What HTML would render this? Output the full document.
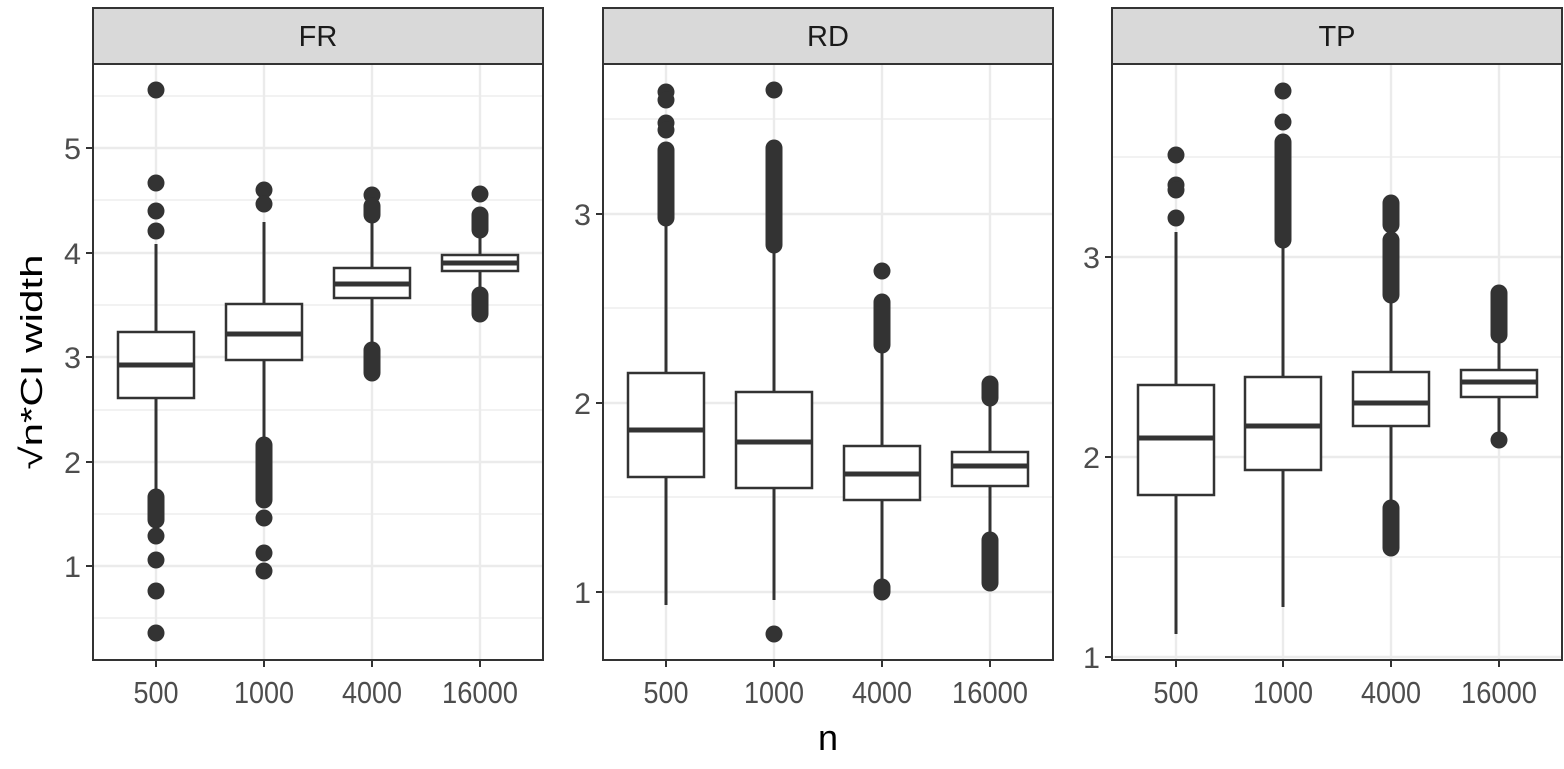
<!DOCTYPE html>
<html><head><meta charset="utf-8"><style>
body{margin:0;background:#fff;width:1564px;height:764px;overflow:hidden}
text{font-family:"Liberation Sans",sans-serif}
</style></head><body>
<svg id="s" width="1564" height="764" xmlns="http://www.w3.org/2000/svg"></svg>
<script>
const s=document.getElementById('s');let h='';
const panels=[
 {x0:93,x1:543,lab:'FR',cats:[156,264,372,480],
  maj:[[148,'5'],[253,'4'],[357,'3'],[462,'2'],[566,'1']],min:[96,200,305,410,514,618],
  b:[
   {q1:332,q3:398,m:365,wt:244,wb:492,o:[90,183,211,231],c:[[497,520],[536,536]],o2:[560,591,633]},
   {q1:304,q3:360,m:334,wt:222,wb:440,o:[190,204],c:[[445,500]],o2:[518,553,571]},
   {q1:268,q3:298,m:284,wt:215,wb:345,o:[195],c:[[206,215],[350,373]],o2:[]},
   {q1:255,q3:271,m:263,wt:233,wb:290,o:[194],c:[[215,230],[295,314]],o2:[]}]},
 {x0:603,x1:1053,lab:'RD',cats:[666,774,882,990],
  maj:[[214,'3'],[403,'2'],[592,'1']],min:[119,308,497],
  b:[
   {q1:373,q3:477,m:430,wt:218,wb:605,o:[92,100,123,130],c:[[150,218]],o2:[]},
   {q1:392,q3:488,m:442,wt:250,wb:600,o:[90],c:[[148,245]],o2:[634]},
   {q1:446,q3:500,m:474,wt:350,wb:585,o:[271],c:[[302,345],[587,592]],o2:[]},
   {q1:452,q3:486,m:466,wt:405,wb:535,o:[],c:[[384,398],[540,583]],o2:[]}]},
 {x0:1112,x1:1562,lab:'TP',cats:[1176,1283,1391,1499],
  maj:[[257,'3'],[457,'2'],[657,'1']],min:[157,357,557],
  b:[
   {q1:385,q3:495,m:438,wt:232,wb:634,o:[155,185,190,218],c:[],o2:[]},
   {q1:377,q3:470,m:426,wt:240,wb:607,o:[91,122],c:[[142,240]],o2:[]},
   {q1:372,q3:426,m:403,wt:297,wb:505,o:[],c:[[203,225],[240,295],[508,548]],o2:[]},
   {q1:370,q3:397,m:382,wt:335,wb:436,o:[],c:[[293,335]],o2:[440]}]}
];
const Y0=64,Y1=660,col='#333';
for(const p of panels){
 h+=`<rect x="${p.x0}" y="8" width="${p.x1-p.x0}" height="${Y0-8}" fill="#d9d9d9" stroke="#333" stroke-width="2"/>`;
 h+=`<text x="${(p.x0+p.x1)/2}" y="46" font-size="29" text-anchor="middle" fill="#1a1a1a">${p.lab}</text>`;
 for(const y of p.min)h+=`<line x1="${p.x0}" x2="${p.x1}" y1="${y}" y2="${y}" stroke="#ebebeb" stroke-width="1.2"/>`;
 for(const [y,t] of p.maj){h+=`<line x1="${p.x0}" x2="${p.x1}" y1="${y}" y2="${y}" stroke="#ebebeb" stroke-width="2.4"/>`;
  h+=`<line x1="${p.x0-7}" x2="${p.x0}" y1="${y}" y2="${y}" stroke="#333" stroke-width="2"/>`;
  h+=`<text x="${p.x0-12}" y="${y+11}" font-size="30" text-anchor="end" fill="#4d4d4d" textLength="17" lengthAdjust="spacingAndGlyphs">${t}</text>`;}
 const names=['500','1000','4000','16000'],tl=[45,60,60,76];
 p.cats.forEach((x,i)=>{h+=`<line x1="${x}" x2="${x}" y1="${Y0}" y2="${Y1}" stroke="#ebebeb" stroke-width="2.4"/>`;
  h+=`<line x1="${x}" x2="${x}" y1="${Y1}" y2="${Y1+7}" stroke="#333" stroke-width="2"/>`;
  h+=`<text x="${x}" y="703" font-size="31" text-anchor="middle" fill="#4d4d4d" textLength="${tl[i]}" lengthAdjust="spacingAndGlyphs">${names[i]}</text>`;
  const b=p.b[i];
  h+=`<line x1="${x}" x2="${x}" y1="${b.wt}" y2="${b.q1}" stroke="${col}" stroke-width="3"/>`;
  h+=`<line x1="${x}" x2="${x}" y1="${b.q3}" y2="${b.wb}" stroke="${col}" stroke-width="3"/>`;
  h+=`<rect x="${x-38}" y="${b.q1}" width="76" height="${b.q3-b.q1}" fill="#fff" stroke="${col}" stroke-width="2.5"/>`;
  h+=`<line x1="${x-38}" x2="${x+38}" y1="${b.m}" y2="${b.m}" stroke="${col}" stroke-width="5"/>`;
  for(const y of [...b.o,...b.o2])h+=`<circle cx="${x}" cy="${y}" r="8.5" fill="${col}"/>`;
  for(const [a,c] of b.c){h+=`<rect x="${x-8.5}" y="${a-8.5}" width="17" height="${c-a+17}" rx="8.5" fill="${col}"/>`;}
 });
 h+=`<rect x="${p.x0}" y="${Y0}" width="${p.x1-p.x0}" height="${Y1-Y0}" fill="none" stroke="#333" stroke-width="2"/>`;
}
h+=`<text x="828" y="750" font-size="36" text-anchor="middle" fill="#000">n</text>`;
h+=`<text transform="translate(42,362) rotate(-90)" font-size="31" text-anchor="middle" fill="#000" textLength="215" lengthAdjust="spacingAndGlyphs">√n*CI width</text>`;
s.innerHTML=h;
</script>
</body></html>
